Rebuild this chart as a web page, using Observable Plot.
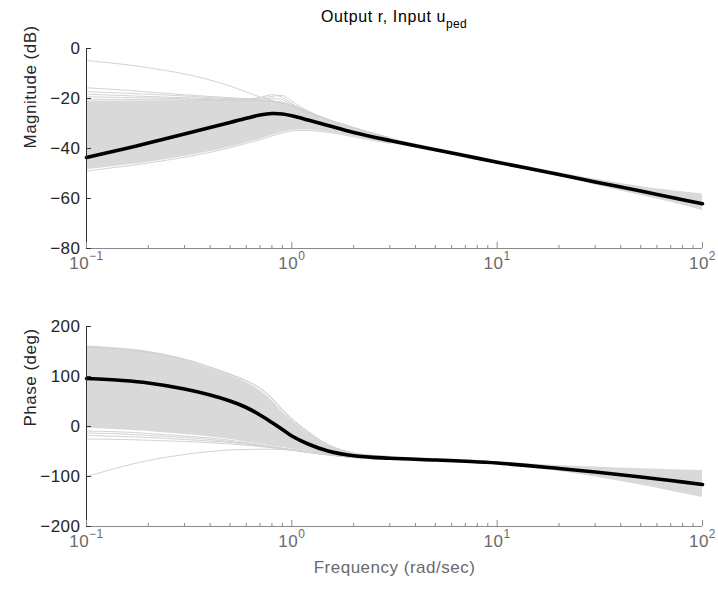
<!DOCTYPE html>
<html>
<head>
<meta charset="utf-8">
<script src="https://cdn.jsdelivr.net/npm/d3@7"></script>
<script src="https://cdn.jsdelivr.net/npm/@observablehq/plot@0.6"></script>
<style>
  body { margin: 0; background: #fff; }
  #wrap { position: relative; width: 718px; height: 590px; font-family: "Liberation Sans", Arial, sans-serif; }
  #wrap svg { position: absolute; left: 0; }
  #title { position: absolute; left: 86px; width: 616px; top: 9px; text-align: center; font-size: 16px; line-height: 16px; letter-spacing: 0.6px; color: #000; z-index: 5; }
  #title sub { font-size: 12px; vertical-align: -6px; line-height: 0; letter-spacing: 0.3px; }
</style>
</head>
<body>
<div id="wrap">
  <div id="title">Output r, Input u<sub>ped</sub></div>
</div>
<script>
// ---------------- data ----------------
const freq = [0.1,0.15,0.2,0.3,0.4,0.5,0.6,0.7,0.8,0.9,1,1.2,1.5,2,3,5,7,10,20,30,50,70,100];
const freqLow = [0.1,0.15,0.2,0.3,0.4,0.5,0.6,0.7,0.8,0.9,1,1.2,1.5,2,3];

// Magnitude (dB)
const magNominal = [-43.6,-40.3,-37.8,-34.2,-31.6,-29.6,-27.9,-26.6,-26.0,-26.2,-26.9,-28.6,-30.8,-33.6,-36.8,-40.5,-42.9,-45.5,-50.4,-53.4,-57.0,-59.5,-62.1];
const magUpper   = [-21.0,-21.0,-21.0,-20.8,-20.6,-20.5,-20.5,-20.8,-21.0,-21.5,-22.8,-25.8,-28.6,-31.8,-35.8,-39.8,-42.2,-44.8,-49.6,-52.2,-55.2,-56.8,-58.2];
const magLower   = [-48.5,-46.8,-45.5,-43.2,-41.2,-39.5,-37.8,-36.3,-34.8,-33.5,-32.8,-32.6,-33.4,-35.2,-38.0,-41.2,-43.6,-46.2,-51.2,-54.6,-58.8,-61.5,-64.8];
const magLineA = [-4.8,-6.3,-7.7,-10.2,-12.6,-15,-17.4,-19.4,-20.8,-21.8,-23,-25.6,-28.5,-31.7,-35.8];
const magLineB = [-15.7,-16.6,-17.4,-18.5,-19.2,-19.7,-20.1,-20.5,-20.9,-21.6,-22.9,-25.6,-28.5,-31.7,-35.8];
const magLineC = [-17.3,-17.8,-18.3,-19,-19.6,-20,-20.2,-19.8,-19.2,-18.8,-21,-25,-28.3,-31.6,-35.8];
const magLineD = [-18.3,-18.8,-19.2,-19.7,-20.1,-20.3,-20.2,-19.6,-18.5,-19.6,-22,-25.4,-28.4,-31.7,-35.8];
const magLineE = [-19.3,-19.6,-19.8,-20.1,-20.4,-20.5,-20.6,-20.4,-20,-20.5,-22.4,-25.5,-28.5,-31.7,-35.8];
const magLineF = [-20.3,-20.4,-20.5,-20.6,-20.7,-20.8,-20.9,-21,-21.1,-21.7,-22.9,-25.7,-28.6,-31.8,-35.8];
const magLineG = [-49,-47.2,-45.8,-43.5,-41.5,-39.7,-38,-36.5,-35,-33.7,-33,-32.8,-33.5,-35.3,-38];

// Phase (deg)
const phNominal = [96,92,87,75,63,51,38,23,8,-6,-19,-35,-49,-58.5,-63.5,-67,-69.5,-73,-84,-91,-101,-108,-116];
const phUpper   = [160,155,149,133,116,102,88,72,52,29,12,-13,-38,-54,-60,-64,-66.5,-70.5,-78,-81,-84.5,-86.5,-88];
const phLower   = [-4,-7,-10,-16,-21,-26,-31,-35,-39,-42,-45,-50,-56,-62,-66,-69.5,-72,-75.5,-90,-101,-117,-129,-142];
const phLine1 = [-9,-11,-14,-19,-23,-27.5,-32,-36,-40,-43,-46,-51,-56,-62,-66];
const phLine2 = [-13,-15,-18,-22,-26,-30,-34,-37.5,-41,-44,-46.5,-51,-56,-62,-66];
const phLine3 = [-18,-20,-22,-26,-29,-32,-35.5,-39,-42,-44.5,-47,-51.5,-56.5,-62,-66];
const phLine4 = [-25,-26,-27.5,-30,-32.5,-35,-37.5,-40,-42.5,-45,-47.5,-52,-57,-62,-66];
const phLine5 = [-100,-80,-68,-56,-50,-47,-46,-45.5,-45.5,-46,-47.5,-51,-56,-62,-66];
const phLine6 = [161,156,150,135,119,105,92,77,57,34,16,-10,-36,-53,-60];
const phLine7 = [159,154,148,134,118,104,91,76,56,32,14,-12,-37,-53.5,-60];

// ticks
const xMajor = [0.1, 1, 10, 100];
const xMinor = [0.2,0.3,0.4,0.5,0.6,0.7,0.8,0.9,2,3,4,5,6,7,8,9,20,30,40,50,60,70,80,90];
const magTicks = [-80,-60,-40,-20,0];
const phTicks = [-200,-100,0,100,200];

// ---------------- build rows ----------------
const band = (lo, hi) => freq.map((f, i) => ({f, lo: lo[i], hi: hi[i]}));
const series = (arr, fs) => arr.map((v, i) => ({f: fs[i], v}));
const multi = (list) => list.flatMap((arr, k) => arr.map((v, i) => ({f: freqLow[i], v, id: k})));

const magBand = band(magLower, magUpper);
const magNom = series(magNominal, freq);
const magExtra = multi([magLineA, magLineB, magLineC, magLineD, magLineE, magLineF, magLineG]);
const phBand = band(phLower, phUpper);
const phNom = series(phNominal, freq);
const phExtra = multi([phLine1, phLine2, phLine3, phLine4, phLine5, phLine6, phLine7]);

const FONT = "Liberation Sans, Arial, sans-serif";
const plotW = 718 - 86 - 16;
const plotH = 200;
const CURVE = "catmull-rom";
const expFmt = d => "10^" + String(Math.round(Math.log10(d))).replace("-", "\u2212");

function panel({bandRows, nomRows, extraRows, domain, ticks, label, marginTop, marginBottom, xLabel}) {
  const marks = [
    Plot.areaY(bandRows, {x: "f", y1: "lo", y2: "hi", fill: "#d9d9d9", curve: CURVE}),
    Plot.line(extraRows, {x: "f", y: "v", z: "id", stroke: "#d2d2d2", strokeWidth: 1, curve: CURVE}),
    Plot.line(nomRows, {x: "f", y: "v", stroke: "#000", strokeWidth: 3.6, curve: CURVE}),
    Plot.ruleY([domain[0]], {stroke: "#8a8a8a", strokeWidth: 1}),
    Plot.ruleX([0.1], {stroke: "#333", strokeWidth: 1}),
    Plot.tickX(xMajor, {x: d => d, stroke: "#8a8a8a", insetTop: plotH - 6}),
    Plot.tickX(xMinor, {x: d => d, stroke: "#8a8a8a", insetTop: plotH - 3}),
    Plot.tickY(ticks, {y: d => d, stroke: "#333", insetRight: plotW - 5}),
    Plot.axisY({ticks, tickSize: 0, tickPadding: 6, label: null, color: "#262626", fontSize: 17}),
    Plot.axisX({ticks: xMajor, tickSize: 0, tickPadding: 8, label: null, color: "#6a6a6a", fontSize: 17, tickFormat: expFmt}),
    Plot.text([label], {text: d => d, frameAnchor: "left", dx: -56, rotate: -90, fill: "#262626", fontSize: 17})
  ];
  if (xLabel) marks.push(Plot.text([xLabel], {text: d => d, frameAnchor: "bottom", dy: 46, fill: "#6a6a6a", fontSize: 17}));
  return Plot.plot({
    width: 718,
    height: marginTop + plotH + marginBottom,
    marginLeft: 86, marginRight: 16, marginTop, marginBottom,
    style: {fontFamily: FONT, fontSize: "17px", letterSpacing: "0.5px", background: "transparent", overflow: "visible"},
    x: {type: "log", domain: [0.1, 100]},
    y: {domain},
    marks
  });
}

function superscripts(svg) {
  d3.select(svg).selectAll('g[aria-label="x-axis tick label"] text').each(function () {
    const t = d3.select(this);
    const [base, exp] = t.text().split("^");
    t.text(null);
    t.append("tspan").text(base);
    t.append("tspan").attr("dy", "-9").attr("font-size", "12px").text(exp);
  });
}

const svgMag = panel({bandRows: magBand, nomRows: magNom, extraRows: magExtra, domain: [-80, 0], ticks: magTicks,
  label: "Magnitude (dB)", marginTop: 48, marginBottom: 46});
const svgPhase = panel({bandRows: phBand, nomRows: phNom, extraRows: phExtra, domain: [-200, 200], ticks: phTicks,
  label: "Phase (deg)", marginTop: 32, marginBottom: 64, xLabel: "Frequency (rad/sec)"});
superscripts(svgMag);
superscripts(svgPhase);
svgMag.style.top = "0px";
svgPhase.style.top = "294px";
const wrap = document.getElementById("wrap");
wrap.insertBefore(svgPhase, wrap.firstChild);
wrap.insertBefore(svgMag, wrap.firstChild);
</script>
</body>
</html>
